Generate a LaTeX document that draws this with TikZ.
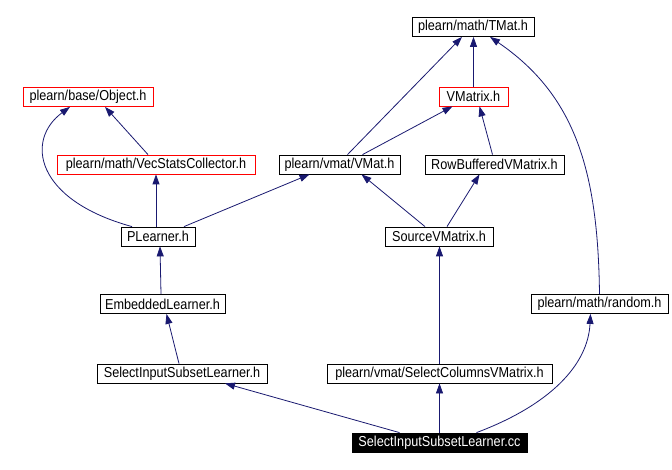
\documentclass[tikz,border=0pt]{standalone}
\usepackage{fontspec}
\setmainfont[FakeStretch=0.88]{Liberation Sans}
\usetikzlibrary{arrows.meta, calc}
\definecolor{depblue}{HTML}{191970}

\begin{document}
\begin{tikzpicture}[
  x=1pt, y=-1pt, font=\fontsize{14.4}{16}\selectfont, >={Triangle[length=10pt, width=7pt]},
  hdr/.style={draw, line width=0.8pt, inner sep=0pt, minimum height=19pt},
  redhdr/.style={hdr, draw=red},
  curhdr/.style={hdr, fill=black, text=white},
  dep/.style={->, draw=depblue, line width=0.8pt},
]
  \fill[white] (0,0) rectangle (672,470);
  \useasboundingbox (0,0) rectangle (672,470);

  \node[hdr, minimum width=122pt] (tmat) at (473,27) {plearn/math/TMat.h};
  \node[redhdr, minimum width=130pt] (obj) at (88,97) {plearn/base/Object.h};
  \node[redhdr, minimum width=69pt] (vmx) at (473.5,96.5) {VMatrix.h};
  \node[redhdr, minimum width=198pt] (vsc) at (156,164.5) {plearn/math/VecStatsCollector.h};
  \node[hdr, minimum width=121pt] (vmat) at (339.5,164.5) {plearn/vmat/VMat.h};
  \node[hdr, minimum width=139pt] (rbv) at (494.5,164.5) {RowBufferedVMatrix.h};
  \node[hdr, minimum width=74pt] (pl) at (158,236.5) {PLearner.h};
  \node[hdr, minimum width=108pt] (src) at (439,236.5) {SourceVMatrix.h};
  \node[hdr, minimum width=125pt] (emb) at (162.5,304) {EmbeddedLearner.h};
  \node[hdr, minimum width=137pt] (rnd) at (599.5,304) {plearn/math/random.h};
  \node[hdr, minimum width=170pt] (sisl) at (182,373.5) {SelectInputSubsetLearner.h};
  \node[hdr, minimum width=225pt] (scv) at (439.5,373.5) {plearn/vmat/SelectColumnsVMatrix.h};
  \node[curhdr, minimum width=175pt] (cc) at (439.5,442.5) {SelectInputSubsetLearner.cc};

  % include edges, child -> included header
  \draw[dep] ([xshift=-26]pl.north) .. controls (35,200) and (25,140) .. ([xshift=-18]obj.south);
  \draw[dep] ([xshift=-8]vsc.north) -- ([xshift=17]obj.south);
  \draw[dep] ([xshift=-2]pl.north) -- ([xshift=-2]pl.north |- vsc.south);
  \draw[dep] ([xshift=26]pl.north) -- ([xshift=-30]vmat.south);
  \draw[dep] ([xshift=8]vmat.north) -- ([xshift=-11]tmat.south);
  \draw[dep] (vmx.north) -- (vmx.north |- tmat.south);
  \draw[dep] ([xshift=23]vmat.north) -- ([xshift=-21]vmx.south);
  \draw[dep] ([xshift=-2]rbv.north) -- ([xshift=6]vmx.south);
  \draw[dep] ([xshift=-14]src.north) -- ([xshift=22]vmat.south);
  \draw[dep] ([xshift=8]src.north) -- ([xshift=-15]rbv.south);
  \draw[dep] (rnd.north) .. controls (598,170) and (575,95) .. ([xshift=17]tmat.south);
  \draw[dep] ([xshift=-1.5]emb.north) -- ([xshift=2]pl.south);
  \draw[dep] ([xshift=-3]sisl.north) -- ([xshift=4]emb.south);
  \draw[dep] (scv.north) -- (scv.north |- src.south);
  \draw[dep] ([xshift=-40]cc.north) -- ([xshift=43]sisl.south);
  \draw[dep] (cc.north) -- (cc.north |- scv.south);
  \draw[dep] ([xshift=37]cc.north) .. controls (550,405) and (588,365) .. ([xshift=-9]rnd.south);
\end{tikzpicture}
\end{document}
